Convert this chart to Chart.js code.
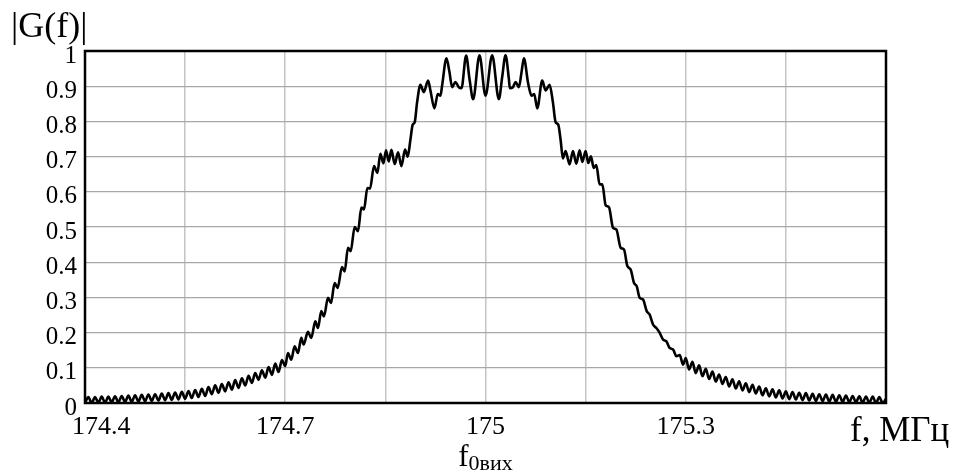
<!DOCTYPE html>
<html>
<head>
<meta charset="utf-8">
<script src="https://cdn.jsdelivr.net/npm/chart.js@4.4.1/dist/chart.umd.min.js"></script>
<style>
  html, body { margin: 0; padding: 0; background: #fff; }
  canvas { display: block; }
</style>
</head>
<body>
<canvas id="c" width="958" height="474"></canvas>
<script>
// ---- data ----
const tailLeftF = [174.400,174.405,174.410,174.415,174.420,174.425,174.430,174.435,174.440,174.445,
  174.450,174.455,174.460,174.465,174.470,174.475,174.480,174.485,174.490,174.495,
  174.500,174.505,174.510,174.515,174.520,174.525,174.530,174.535,174.540,174.545,
  174.550,174.555,174.560,174.565,174.570,174.575,174.580,174.585,174.590,174.595,
  174.600,174.605,174.610,174.615,174.620,174.625,174.630,174.635,174.640,174.645,
  174.650,174.655,174.660,174.665,174.670,174.675,174.680,174.685,174.690,174.695,174.700];
const tailLeftG = [0.000,0.017,0.000,0.017,0.001,0.018,0.001,0.018,0.002,0.019,
  0.002,0.020,0.003,0.021,0.003,0.022,0.004,0.023,0.005,0.024,
  0.006,0.025,0.007,0.027,0.008,0.028,0.009,0.030,0.010,0.032,
  0.012,0.034,0.014,0.037,0.017,0.040,0.020,0.045,0.025,0.050,
  0.029,0.054,0.033,0.059,0.038,0.065,0.043,0.070,0.050,0.077,
  0.057,0.085,0.066,0.093,0.072,0.102,0.080,0.112,0.088,0.122,0.105];

const riseF = [174.704,174.709,174.714,174.719,174.724,174.7275,174.734,174.739,174.745,174.749,
  174.754,174.758,174.764,174.7685,174.774,174.7785,174.785,174.789,174.794,174.798,
  174.804,174.809,174.814,174.818,174.823,174.827,174.833,174.838,
  174.8425,174.847,174.851,174.855,174.859,174.864,174.869,174.874];
const riseG = [0.142,0.123,0.161,0.142,0.185,0.166,0.202,0.185,0.232,0.213,
  0.261,0.246,0.299,0.284,0.341,0.327,0.386,0.374,0.441,0.431,
  0.500,0.488,0.555,0.550,0.611,0.609,0.673,0.654,
  0.708,0.681,0.718,0.686,0.719,0.679,0.712,0.673];

const topF = [174.8795,174.8835,174.8875,174.891,174.894,174.8975,174.9025,174.9075,174.914,174.9175,
  174.9235,174.9285,174.9325,174.935,174.9415,174.946,174.950,174.955,174.960,174.964,
  174.971,174.976,174.9815,174.991,175.000,
  175.010,175.020,175.025,175.030,175.035,175.0365,175.041,175.045,175.050,175.054,
  175.0575,175.064,175.069,175.073,175.0775,175.085,175.090,175.096,175.101,175.105,
  175.109,175.1125,175.116];
const topG = [0.720,0.700,0.748,0.791,0.798,0.854,0.904,0.883,0.916,0.888,
  0.837,0.878,0.873,0.902,0.979,0.940,0.897,0.912,0.897,0.894,
  0.987,0.921,0.863,0.988,0.873,
  0.988,0.863,0.926,0.988,0.921,0.894,0.897,0.912,0.897,0.940,
  0.979,0.907,0.873,0.878,0.837,0.916,0.888,0.904,0.854,0.798,
  0.791,0.748,0.695];

const fallF = [175.120,175.126,175.131,175.136,175.141,175.145,175.150,175.154,175.158,175.162,
  175.166,175.171,175.175,175.180,175.185,175.191,175.196,175.2025,175.2075,175.2125,
  175.2175,175.2225,175.2265,175.231,175.236,175.2415,175.246,175.251,175.256,175.261,
  175.266,175.271,175.276,175.281,175.286,175.291,175.296];
const fallG = [0.716,0.678,0.716,0.680,0.718,0.685,0.716,0.682,0.701,0.668,
  0.676,0.621,0.621,0.562,0.556,0.498,0.493,0.441,0.436,0.389,
  0.379,0.341,0.332,0.299,0.294,0.261,0.251,0.223,0.213,0.199,
  0.180,0.175,0.156,0.152,0.133,0.136,0.109];

const tailRightF = [175.300,175.305,175.310,175.315,175.320,175.325,175.330,175.335,175.340,175.345,
  175.350,175.355,175.360,175.365,175.370,175.375,175.380,175.385,175.390,175.395,
  175.400,175.405,175.410,175.415,175.420,175.425,175.430,175.435,175.440,175.445,
  175.450,175.455,175.460,175.465,175.470,175.475,175.480,175.485,175.490,175.495,
  175.500,175.505,175.510,175.515,175.520,175.525,175.530,175.535,175.540,175.545,
  175.550,175.555,175.560,175.565,175.570,175.575,175.580,175.585,175.590,175.595,175.600];
const tailRightG = [0.128,0.095,0.117,0.085,0.107,0.076,0.097,0.068,0.089,0.061,
  0.081,0.054,0.074,0.047,0.067,0.041,0.062,0.036,0.056,0.031,
  0.052,0.027,0.047,0.022,0.042,0.019,0.039,0.016,0.036,0.013,
  0.033,0.011,0.031,0.010,0.029,0.008,0.028,0.007,0.026,0.006,
  0.025,0.005,0.024,0.004,0.023,0.003,0.022,0.003,0.021,0.002,
  0.020,0.002,0.019,0.001,0.018,0.001,0.018,0.000,0.017,0.000,0.012];

const xTicks = [174.4, 174.55, 174.7, 174.85, 175.0, 175.15, 175.3, 175.45, 175.6];
const xTickLabels = ['174.4', '', '174.7', '', '175', '', '175.3', '', ''];
const yTicks = [0, 0.1, 0.2, 0.3, 0.4, 0.5, 0.6, 0.7, 0.8, 0.9, 1];
const yTickLabels = ['0', '0.1', '0.2', '0.3', '0.4', '0.5', '0.6', '0.7', '0.8', '0.9', '1'];
const yTitle = '|G(f)|';
const xUnit = 'f, МГц';
const markerMain = 'f';
const markerSub = '0вих';
const markerFreq = 175.0;

// ---- build points ----
const allF = [].concat(tailLeftF, riseF, topF, fallF, tailRightF);
const allG = [].concat(tailLeftG, riseG, topG, fallG, tailRightG);
const points = allF.map((f, i) => ({ x: f, y: allG[i] }));

const FONT = '"Liberation Serif", "Times New Roman", serif';

const decorPlugin = {
  id: 'decor',
  afterDraw(chart) {
    const { ctx, chartArea: a } = chart;
    ctx.save();
    ctx.strokeStyle = '#000';
    ctx.lineWidth = 2.5;
    ctx.strokeRect(a.left, a.top, a.right - a.left, a.bottom - a.top);

    ctx.fillStyle = '#000';
    ctx.textBaseline = 'alphabetic';
    ctx.textAlign = 'left';
    ctx.font = '36px ' + FONT;
    ctx.fillText(yTitle, 11, 37);

    ctx.font = '35px ' + FONT;
    ctx.fillText(xUnit, 850, 441);

    const xc = chart.scales.x.getPixelForValue(markerFreq);
    ctx.font = '31px ' + FONT;
    const w1 = ctx.measureText(markerMain).width;
    ctx.font = '22px ' + FONT;
    const w2 = ctx.measureText(markerSub).width;
    const x0 = xc - (w1 + w2) / 2;
    ctx.font = '31px ' + FONT;
    ctx.fillText(markerMain, x0, 466);
    ctx.font = '22px ' + FONT;
    ctx.fillText(markerSub, x0 + w1, 470);
    ctx.restore();
  }
};

new Chart(document.getElementById('c'), {
  type: 'line',
  data: {
    datasets: [{
      data: points,
      borderColor: '#000',
      borderWidth: 2.6,
      pointRadius: 0,
      fill: false,
      cubicInterpolationMode: 'monotone'
    }]
  },
  options: {
    responsive: false,
    animation: false,
    devicePixelRatio: 1,
    layout: { padding: { left: 0, right: 72, top: 51, bottom: 0 } },
    plugins: { legend: { display: false }, tooltip: { enabled: false } },
    scales: {
      x: {
        type: 'linear',
        min: 174.4,
        max: 175.6,
        afterBuildTicks: (s) => { s.ticks = xTicks.map(v => ({ value: v })); },
        afterFit: (s) => { s.height = 71; },
        grid: { color: '#c4c4c4', lineWidth: 1.5, drawTicks: false },
        border: { display: false },
        ticks: {
          autoSkip: false,
          maxRotation: 0,
          padding: 9,
          color: '#000',
          font: { family: FONT, size: 26 },
          callback: (v, i) => (i === 0 ? '     ' : '') + xTickLabels[i]
        }
      },
      y: {
        min: 0,
        max: 1,
        afterBuildTicks: (s) => { s.ticks = yTicks.map(v => ({ value: v })); },
        afterFit: (s) => { s.width = 85; },
        grid: { color: '#a8a8a8', lineWidth: 1.2, drawTicks: false },
        border: { display: false },
        ticks: {
          autoSkip: false,
          padding: 8,
          labelOffset: 5,
          color: '#000',
          font: { family: FONT, size: 25 },
          callback: (v, i) => yTickLabels[i]
        }
      }
    }
  },
  plugins: [decorPlugin]
});
</script>
</body>
</html>
